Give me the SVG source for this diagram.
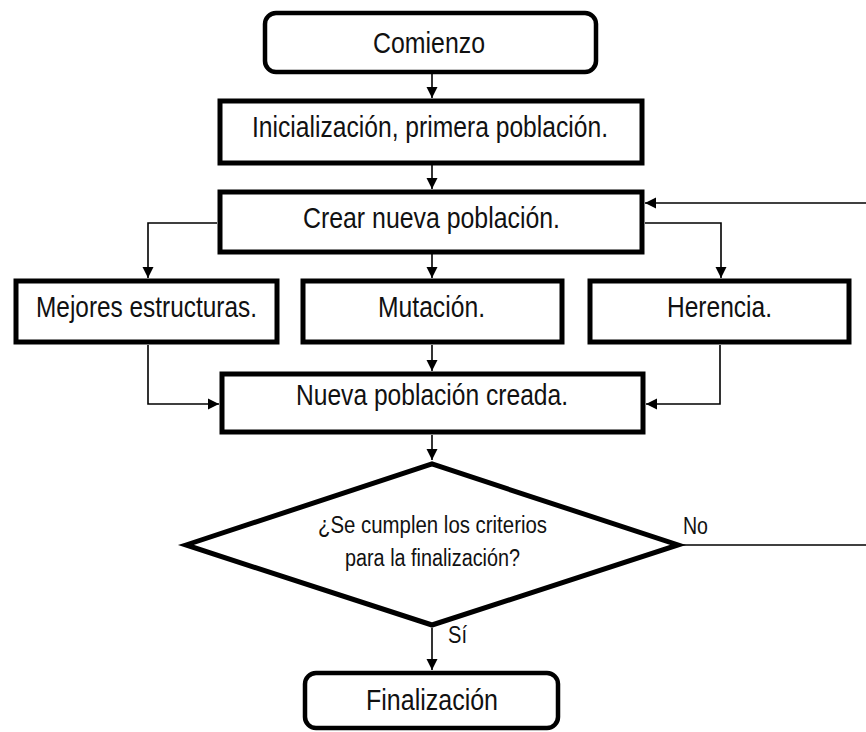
<svg xmlns="http://www.w3.org/2000/svg" width="866" height="732" viewBox="0 0 866 732">
<style>
.box{fill:#fff;stroke:#000;stroke-width:5}
.term{fill:#fff;stroke:#000;stroke-width:4.5}
.t{font-family:"Liberation Sans",Arial,sans-serif;font-size:29px;fill:#111;text-anchor:middle}
.s{font-family:"Liberation Sans",Arial,sans-serif;font-size:23px;fill:#111;text-anchor:middle}
.c{fill:none;stroke:#000;stroke-width:1.6}
</style>
<defs>
<marker id="ah" markerUnits="userSpaceOnUse" markerWidth="12" markerHeight="12" refX="11" refY="6" orient="auto">
<path d="M0,0.5 L11,6 L0,11.5 z" fill="#000"/>
</marker>
</defs>
<rect width="866" height="732" fill="#fff"/>
<g id="connectors">
<line class="c" x1="432" y1="74" x2="432" y2="98" marker-end="url(#ah)"/>
<line class="c" x1="432" y1="165" x2="432" y2="189" marker-end="url(#ah)"/>
<polyline class="c" points="866,203 645,203" marker-end="url(#ah)"/>
<polyline class="c" points="217,223 148,223 148,278" marker-end="url(#ah)"/>
<line class="c" x1="432" y1="254" x2="432" y2="278" marker-end="url(#ah)"/>
<polyline class="c" points="645,223 721,223 721,278" marker-end="url(#ah)"/>
<polyline class="c" points="148,345 148,404 219,404" marker-end="url(#ah)"/>
<line class="c" x1="432" y1="345" x2="432" y2="371" marker-end="url(#ah)"/>
<polyline class="c" points="720,345 720,404 646,404" marker-end="url(#ah)"/>
<line class="c" x1="432" y1="435" x2="432" y2="460" marker-end="url(#ah)"/>
<line class="c" x1="680" y1="545" x2="866" y2="545"/>
<line class="c" x1="432" y1="628" x2="432" y2="670" marker-end="url(#ah)"/>
<text class="s" x="695.5" y="534" textLength="25" lengthAdjust="spacingAndGlyphs">No</text>
<text class="s" x="457.5" y="643" textLength="19" lengthAdjust="spacingAndGlyphs">Sí</text>
</g>
<g id="comienzo">
<rect class="term" x="265" y="13" width="331" height="59" rx="11"/>
<text class="t" x="429" y="53" textLength="112" lengthAdjust="spacingAndGlyphs">Comienzo</text>
</g>
<g id="inicializacion">
<rect class="box" x="220" y="101" width="422" height="62"/>
<text class="t" x="430" y="137" textLength="356" lengthAdjust="spacingAndGlyphs">Inicialización, primera población.</text>
</g>
<g id="crear">
<rect class="box" x="220" y="192" width="422" height="60"/>
<text class="t" x="431.5" y="228" textLength="257" lengthAdjust="spacingAndGlyphs">Crear nueva población.</text>
</g>
<g id="mejores">
<rect class="box" x="16" y="281" width="261" height="61"/>
<text class="t" x="146.5" y="317" textLength="221" lengthAdjust="spacingAndGlyphs">Mejores estructuras.</text>
</g>
<g id="mutacion">
<rect class="box" x="303" y="281" width="259" height="61"/>
<text class="t" x="431.5" y="317" textLength="107" lengthAdjust="spacingAndGlyphs">Mutación.</text>
</g>
<g id="herencia">
<rect class="box" x="590" y="281" width="259" height="61"/>
<text class="t" x="719.5" y="317" textLength="105" lengthAdjust="spacingAndGlyphs">Herencia.</text>
</g>
<g id="nueva">
<rect class="box" x="222" y="374" width="421" height="58"/>
<text class="t" x="432" y="405" textLength="272" lengthAdjust="spacingAndGlyphs">Nueva población creada.</text>
</g>
<g id="decision">
<polygon points="186,545 432,464 678,545 432,625" fill="#fff" stroke="#000" stroke-width="5" stroke-linejoin="miter"/>
<text class="s" x="432.5" y="533" textLength="229" lengthAdjust="spacingAndGlyphs">¿Se cumplen los criterios</text>
<text class="s" x="432.5" y="566" textLength="175" lengthAdjust="spacingAndGlyphs">para la finalización?</text>
</g>
<g id="finalizacion">
<rect class="term" x="305" y="673" width="253" height="55" rx="11"/>
<text class="t" x="432" y="710" textLength="132" lengthAdjust="spacingAndGlyphs">Finalización</text>
</g>
</svg>
